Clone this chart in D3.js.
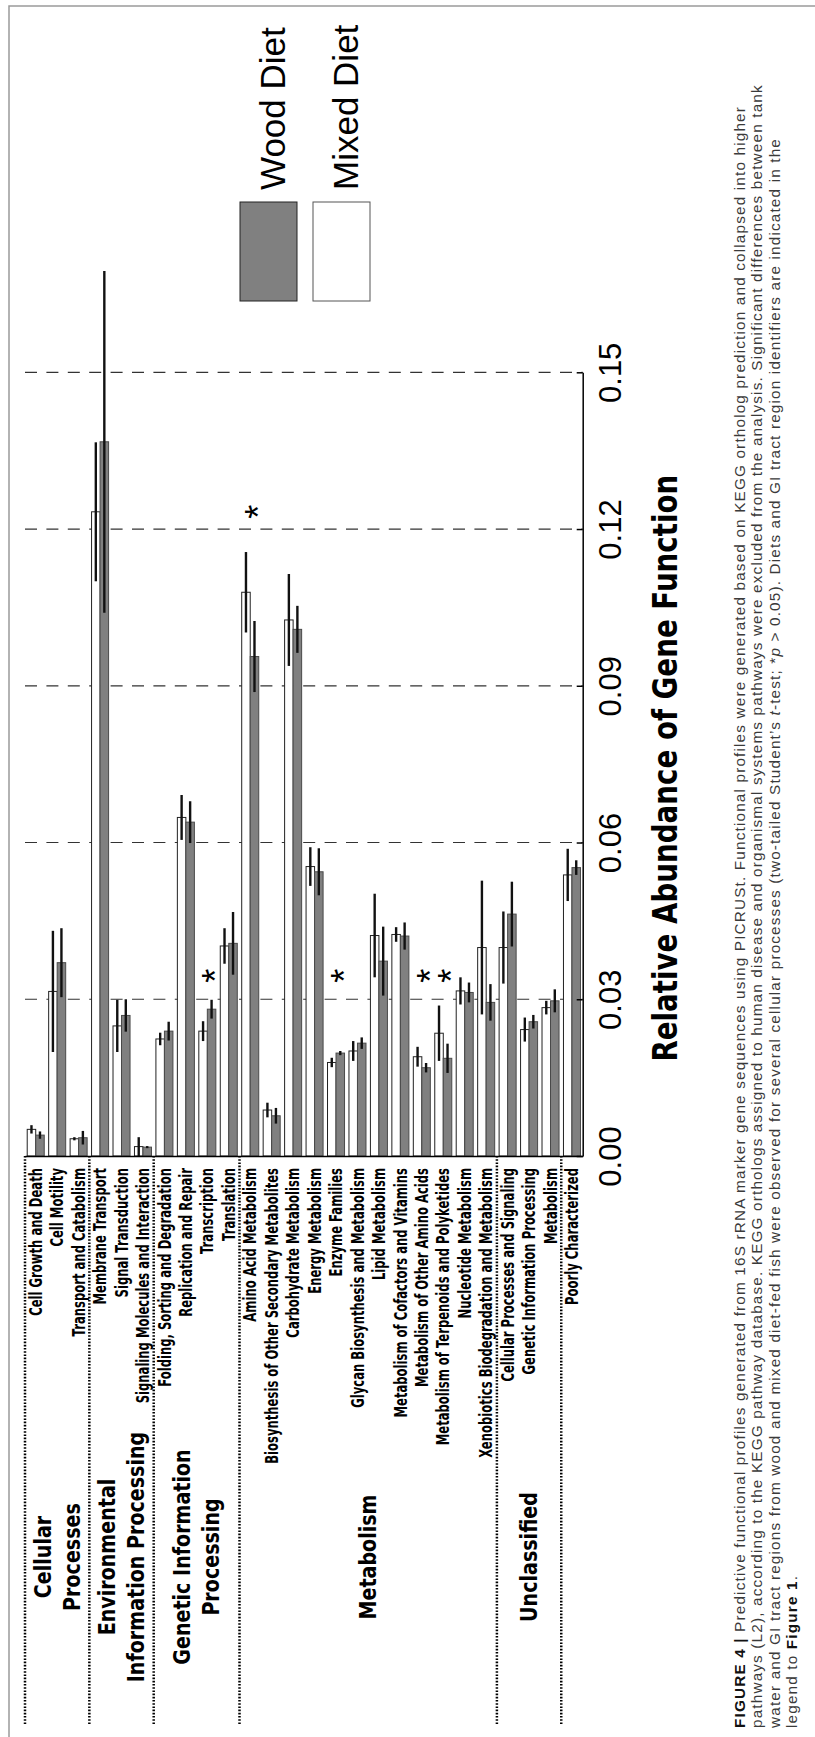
<!DOCTYPE html>
<html>
<head>
<meta charset="utf-8">
<script src="https://cdn.jsdelivr.net/npm/d3@7"></script>
<style>
  html, body { margin: 0; padding: 0; background: #fff; }
  svg { display: block; }
</style>
</head>
<body>
<div id="chart"></div>
<script>
// ---------- data ----------
const categories = [
  "Cell Growth and Death", "Cell Motility", "Transport and Catabolism",
  "Membrane Transport", "Signal Transduction", "Signaling Molecules and Interaction",
  "Folding, Sorting and Degradation", "Replication and Repair", "Transcription", "Translation",
  "Amino Acid Metabolism", "Biosynthesis of Other Secondary Metabolites", "Carbohydrate Metabolism",
  "Energy Metabolism", "Enzyme Families", "Glycan Biosynthesis and Metabolism", "Lipid Metabolism",
  "Metabolism of Cofactors and Vitamins", "Metabolism of Other Amino Acids",
  "Metabolism of Terpenoids and Polyketides", "Nucleotide Metabolism",
  "Xenobiotics Biodegradation and Metabolism",
  "Cellular Processes and Signaling", "Genetic Information Processing", "Metabolism",
  "Poorly Characterized"
];

const mixedMean = [0.0051, 0.0315, 0.0033, 0.1233, 0.0249, 0.0018, 0.0224, 0.0648, 0.0239, 0.0402,
  0.1079, 0.0088, 0.1026, 0.0554, 0.0179, 0.0201, 0.0422, 0.0424, 0.0190, 0.0235, 0.0316, 0.0399,
  0.0399, 0.0242, 0.0284, 0.0538];
const mixedErr = [0.0008, 0.0116, 0.0003, 0.0133, 0.0050, 0.0018, 0.0012, 0.0043, 0.0019, 0.0034,
  0.0077, 0.0014, 0.0088, 0.0037, 0.0009, 0.0019, 0.0080, 0.0014, 0.0019, 0.0053, 0.0026, 0.0128,
  0.0069, 0.0023, 0.0013, 0.0050];
const woodMean = [0.0040, 0.0370, 0.0035, 0.1367, 0.0269, 0.0017, 0.0239, 0.0639, 0.0281, 0.0407,
  0.0956, 0.0077, 0.1008, 0.0544, 0.0197, 0.0216, 0.0373, 0.0421, 0.0169, 0.0187, 0.0313, 0.0294,
  0.0463, 0.0257, 0.0297, 0.0552];
const woodErr = [0.0007, 0.0066, 0.0013, 0.0327, 0.0031, 0.0002, 0.0018, 0.0040, 0.0018, 0.0060,
  0.0068, 0.0015, 0.0045, 0.0045, 0.0004, 0.0011, 0.0066, 0.0026, 0.0009, 0.0028, 0.0019, 0.0035,
  0.0062, 0.0013, 0.0022, 0.0014];

const seriesNames = ["Mixed Diet", "Wood Diet"];
const legendNames = ["Wood Diet", "Mixed Diet"];

// groups of categories (first index, index after last)
const groupLabels = [["Cellular", "Processes"], ["Environmental", "Information Processing"],
  ["Genetic Information", "Processing"], ["Metabolism"], ["Unclassified"]];
const groupStart = [0, 3, 6, 10, 22];
const groupEnd = [3, 6, 10, 22, 25];
const separatorIdx = [0, 3, 6, 10, 22, 25];

// significant differences (*), with the height where the star sits
const sigCategories = ["Transcription", "Amino Acid Metabolism", "Enzyme Families",
  "Metabolism of Other Amino Acids", "Metabolism of Terpenoids and Polyketides"];
const sigValue = [0.0345, 0.1233, 0.0345, 0.0345, 0.0345];

const tickValues = [0, 0.03, 0.06, 0.09, 0.12, 0.15];
const axisTitle = "Relative Abundance of Gene Function";

const captionLines = [
  [["FIGURE 4 | ", "b"], ["Predictive functional profiles generated from 16S rRNA marker gene sequences using PICRUSt. Functional profiles were generated based on KEGG ortholog prediction and collapsed into higher", ""]],
  [["pathways (L2), according to the KEGG pathway database. KEGG orthologs assigned to human disease and organismal systems pathways were excluded from the analysis. Significant differences between tank", ""]],
  [["water and GI tract regions from wood and mixed diet-fed fish were observed for several cellular processes (two-tailed Student\u2019s ", ""], ["t", "i"], ["-test; *", ""], ["p", "i"], [" > 0.05). Diets and GI tract region identifiers are indicated in the", ""]],
  [["legend to ", ""], ["Figure 1", "b"], [".", ""]]
];

// ---------- layout ----------
const width = 815, height = 1737;
const sansFont = "'Liberation Sans', Arial, Helvetica, sans-serif";
const boldFont = "'DejaVu Sans', Verdana, sans-serif";

const svg = d3.select("#chart").append("svg")
  .attr("width", width)
  .attr("height", height);

// frame
svg.append("path")
  .attr("d", `M9,${height}V6H${width}`)
  .attr("fill", "none")
  .attr("stroke", "#9a9a9a")
  .attr("stroke-width", 1.5);

const x = d3.scaleBand().domain(categories).range([25, 582.7]).padding(0);
const x1 = d3.scaleBand().domain(seriesNames).range([0, x.bandwidth()])
  .paddingInner(0).paddingOuter(0.26);
const y = d3.scaleLinear().domain([0, 0.15]).range([1156, 372.3]);

const fill = d3.scaleOrdinal().domain(seriesNames).range(["#ffffff", "#808080"]);
const stroke = d3.scaleOrdinal().domain(seriesNames).range(["#222222", "#4a4a4a"]);

// gridlines
svg.append("g")
  .selectAll("line")
  .data(tickValues.slice(1))
  .join("line")
  .attr("x1", x.range()[0])
  .attr("x2", x.range()[1])
  .attr("y1", d => y(d))
  .attr("y2", d => y(d))
  .attr("stroke", "#333")
  .attr("stroke-width", 1.2)
  .attr("stroke-dasharray", "12,9.4");

// bars
const rows = categories.map((c, i) => ({
  cat: c,
  values: [
    { key: "Mixed Diet", v: mixedMean[i], e: mixedErr[i] },
    { key: "Wood Diet", v: woodMean[i], e: woodErr[i] }
  ]
}));

const cat = svg.append("g")
  .selectAll("g")
  .data(rows)
  .join("g")
  .attr("transform", d => `translate(${x(d.cat)},0)`);

cat.selectAll("rect")
  .data(d => d.values)
  .join("rect")
  .attr("x", d => x1(d.key))
  .attr("y", d => y(d.v))
  .attr("width", x1.bandwidth())
  .attr("height", d => y(0) - y(d.v))
  .attr("fill", d => fill(d.key))
  .attr("stroke", d => stroke(d.key))
  .attr("stroke-width", 1);

cat.selectAll("line.err")
  .data(d => d.values)
  .join("line")
  .attr("class", "err")
  .attr("x1", d => x1(d.key) + x1.bandwidth() / 2)
  .attr("x2", d => x1(d.key) + x1.bandwidth() / 2)
  .attr("y1", d => y(d.v + d.e))
  .attr("y2", d => y(Math.max(0, d.v - d.e)))
  .attr("stroke", "#111")
  .attr("stroke-width", 2.4);

// category axis (baseline) - condensed bold labels
const xAxis = svg.append("g")
  .attr("transform", `translate(0,${y(0)})`)
  .call(d3.axisBottom(x).tickSize(0).tickSizeOuter(0).tickPadding(0));
xAxis.select(".domain").attr("stroke", "#000").attr("stroke-width", 1.5);
const catText = xAxis.selectAll(".tick text")
  .attr("x", 0)
  .attr("y", 0)
  .attr("dy", "0.36em")
  .attr("text-anchor", "end")
  .style("font-family", boldFont)
  .style("font-weight", "bold")
  .style("font-size", "17px")
  .style("fill", "#000");
const refLen = catText.filter(d => d === categories[0]).node().getComputedTextLength();
const catScale = 148 / refLen;
catText.attr("transform", `translate(0,12) rotate(-90) scale(${catScale},1)`);

// value axis
const yAxis = svg.append("g")
  .attr("transform", `translate(${x.range()[1]},0)`)
  .call(d3.axisRight(y).tickValues(tickValues).tickFormat(d3.format(".2f"))
    .tickSize(-6).tickSizeOuter(0).tickPadding(0));
yAxis.select(".domain").attr("stroke", "#000").attr("stroke-width", 1.5);
yAxis.selectAll(".tick line").attr("stroke", "#000").attr("stroke-width", 1.5);
yAxis.selectAll(".tick text")
  .attr("x", 0)
  .attr("dy", null)
  .attr("text-anchor", "middle")
  .attr("transform", "translate(38,0) rotate(-90)")
  .style("font-family", sansFont)
  .style("font-size", "31px")
  .style("fill", "#000");

// axis title
const title = svg.append("text")
  .attr("text-anchor", "middle")
  .style("font-family", boldFont)
  .style("font-weight", "bold")
  .style("font-size", "33px")
  .text(axisTitle);
const titleScale = 587 / title.node().getComputedTextLength();
title.attr("transform", `translate(677,${(y(0) + y(0.15)) / 2 + 4}) rotate(-90) scale(${titleScale},1)`);

// group separators
svg.append("g")
  .selectAll("line")
  .data(separatorIdx)
  .join("line")
  .attr("x1", i => x(categories[i]))
  .attr("x2", i => x(categories[i]))
  .attr("y1", y(0))
  .attr("y2", 1725)
  .attr("stroke", "#000")
  .attr("stroke-width", 2.5)
  .attr("stroke-dasharray", "1.6,1.6");

// group labels
groupLabels.forEach((lines, g) => {
  const cx = (x(categories[groupStart[g]]) + x(categories[groupEnd[g] - 1]) + x.bandwidth()) / 2;
  lines.forEach((line, j) => {
    const off = (j - (lines.length - 1) / 2) * 29;
    svg.append("text")
      .attr("transform", `translate(${cx + off},1557) rotate(-90) scale(0.83,1)`)
      .attr("text-anchor", "middle")
      .attr("dy", "0.36em")
      .style("font-family", boldFont)
      .style("font-weight", "bold")
      .style("font-size", "23px")
      .text(line);
  });
});

// significance stars
svg.append("g")
  .selectAll("text")
  .data(sigCategories)
  .join("text")
  .attr("transform", (d, i) => `translate(${x(d) + x.bandwidth() / 2},${y(sigValue[i])}) rotate(-90)`)
  .attr("text-anchor", "middle")
  .attr("dy", "0.58em")
  .style("font-family", sansFont)
  .style("font-size", "36px")
  .text("*");

// legend
const legend = svg.append("g");
legendNames.forEach((name, i) => {
  const lx = 240 + i * 73;
  legend.append("rect")
    .attr("x", lx)
    .attr("y", 202)
    .attr("width", 57)
    .attr("height", 99)
    .attr("fill", fill(name))
    .attr("stroke", i === 0 ? "#222" : "#555")
    .attr("stroke-width", 1);
  legend.append("text")
    .attr("transform", `translate(${lx + 45},190) rotate(-90)`)
    .attr("text-anchor", "start")
    .style("font-family", sansFont)
    .style("font-size", "35px")
    .text(name);
});

// caption
const caption = svg.append("g")
  .style("font-family", sansFont)
  .style("fill", "#3a3a3a");
const captionTexts = captionLines.map((parts, i) => {
  const t = caption.append("text")
    .attr("transform", `translate(${744.5 + i * 17.5},1728) rotate(-90)`)
    .style("font-size", "15.3px");
  parts.forEach(([s, st]) => {
    t.append("tspan")
      .style("font-weight", st === "b" ? "bold" : null)
      .style("font-style", st === "i" ? "italic" : null)
      .style("fill", st === "b" ? "#111" : null)
      .text(s);
  });
  return t;
});
const line1 = captionTexts[0];
const nChars = captionLines[0].map(p => p[0]).join("").length;
const spacing = (1622 - line1.node().getComputedTextLength()) / nChars;
captionTexts.forEach(t => t.style("letter-spacing", spacing + "px"));
</script>
</body>
</html>
